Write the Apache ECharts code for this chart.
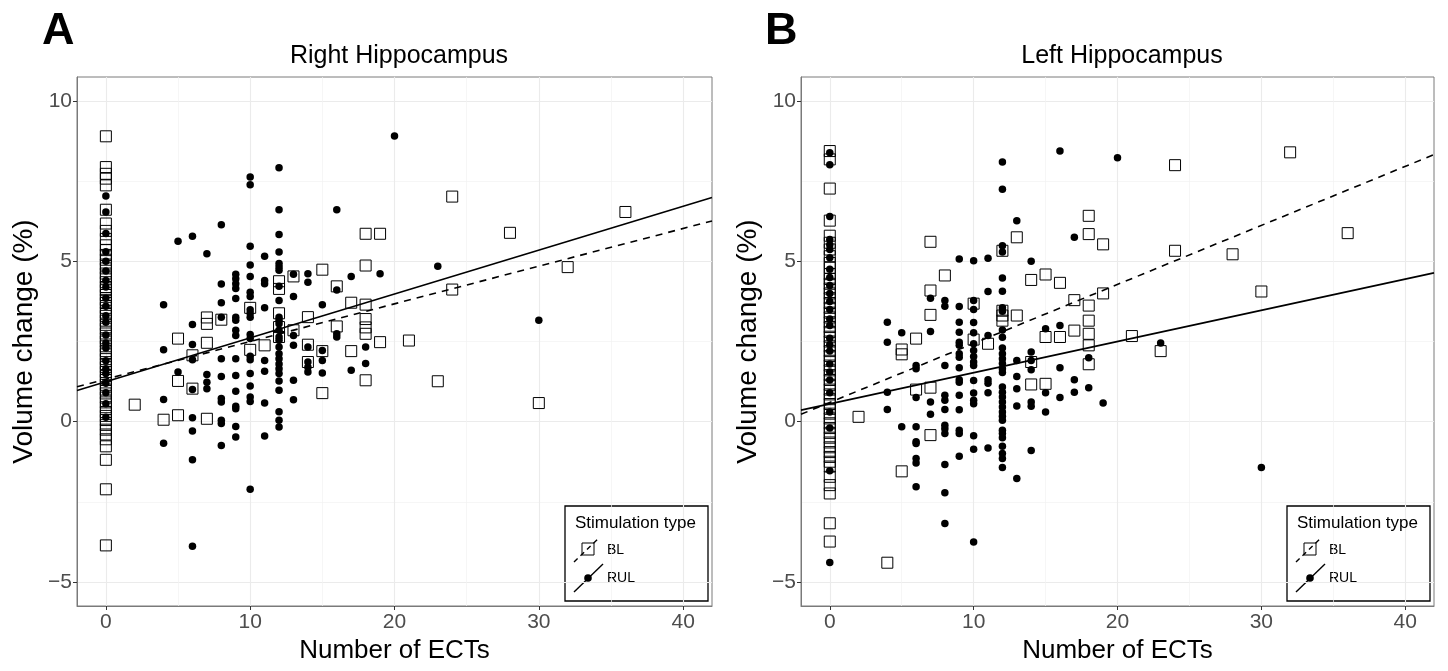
<!DOCTYPE html>
<html>
<head>
<meta charset="utf-8">
<title>ECT hippocampus volume change</title>
<script src="https://cdn.jsdelivr.net/npm/echarts@6/dist/echarts.min.js"></script>
<style>
  html, body { margin: 0; padding: 0; background: #fff; }
  #chart { width: 1448px; height: 671px; }
</style>
</head>
<body>
<div id="chart"></div>
<script>
// ---- data: [number of ECTs, volume change %] ----
// panel A, right hippocampus
var rightBL = [
  [0, 8.9], [0, 7.94], [0, 7.73], [0, 7.58], [0, 7.37], [0, 6.61], [0, 6.18], [0, 5.95], [0, 5.7], [0, 5.5],
  [0, 5.35], [0, 5.2], [0, 5.05], [0, 4.9], [0, 4.78], [0, 4.62], [0, 4.5], [0, 4.35], [0, 4.2], [0, 4.1],
  [0, 3.95], [0, 3.8], [0, 3.7], [0, 3.55], [0, 3.4], [0, 3.3], [0, 3.15], [0, 3.02], [0, 2.9], [0, 2.75],
  [0, 2.6], [0, 2.5], [0, 2.35], [0, 2.2], [0, 2.1], [0, 1.95], [0, 1.8], [0, 1.7], [0, 1.55], [0, 1.42],
  [0, 1.3], [0, 1.15], [0, 1.0], [0, 0.88], [0, 0.75], [0, 0.6], [0, 0.45], [0, 0.3], [0, 0.18], [0, 0.05],
  [0, -0.1], [0, -0.25], [0, -0.4], [0, -0.55], [0, -0.77], [0, -1.19], [0, -2.11], [0, -3.86],
  [2, 0.53], [4, 0.06], [5, 2.59], [5, 1.27], [5, 0.2], [6, 2.07], [6, 1.03],
  [7, 3.25], [7, 3.05], [7, 2.46], [7, 0.09], [8, 3.18], [10, 3.55], [10, 2.24], [11, 2.38],
  [12, 4.38], [12, 4.14], [12, 3.38], [12, 2.95], [12, 2.64], [13, 4.53], [13, 2.85],
  [14, 3.26], [14, 2.4], [14, 1.86], [15, 4.74], [15, 2.2], [15, 0.89], [16, 4.22], [16, 2.97],
  [17, 3.71], [17, 2.2], [18, 5.86], [18, 4.87], [18, 3.65], [18, 3.2], [18, 2.94], [18, 2.74], [18, 1.29],
  [19, 5.86], [19, 2.48], [21, 2.53], [23, 1.26], [24, 7.02], [24, 4.12], [28, 5.89], [30, 0.58],
  [32, 4.82], [36, 6.54]
];
var rightRUL = [
  [0, 7.04], [0, 6.54], [0, 5.87], [0, 5.3], [0, 5.0], [0, 4.7], [0, 4.4], [0, 4.2], [0, 3.85], [0, 3.6],
  [0, 3.3], [0, 3.1], [0, 2.7], [0, 2.45], [0, 2.3], [0, 1.9], [0, 1.65], [0, 1.5], [0, 1.2], [0, 0.9],
  [0, 0.56], [0, 0.14],
  [4, 3.65], [4, 2.24], [4, 0.69], [4, -0.67], [5, 5.63], [5, 1.55],
  [6, 5.78], [6, 3.03], [6, 2.41], [6, 1.93], [6, 1.0], [6, 0.12], [6, -0.29], [6, -1.19], [6, -3.89],
  [7, 5.24], [7, 1.47], [7, 1.23], [7, 1.03],
  [8, 6.14], [8, 4.29], [8, 3.71], [8, 3.26], [8, 1.96], [8, 1.41], [8, 0.72], [8, 0.61], [8, 0.04], [8, -0.06], [8, -0.74],
  [9, 4.6], [9, 4.46], [9, 4.3], [9, 4.15], [9, 3.84], [9, 3.26], [9, 3.16], [9, 2.85], [9, 2.69], [9, 1.96],
  [9, 1.44], [9, 0.95], [9, 0.48], [9, 0.4], [9, -0.15], [9, -0.48],
  [10, 7.63], [10, 7.39], [10, 5.47], [10, 4.89], [10, 4.53], [10, 4.04], [10, 3.9], [10, 3.49], [10, 3.38], [10, 3.26],
  [10, 2.72], [10, 2.59], [10, 2.04], [10, 1.93], [10, 1.5], [10, 1.11], [10, 0.77], [10, 0.63], [10, -2.11],
  [11, 5.16], [11, 4.4], [11, 4.3], [11, 3.55], [11, 1.91], [11, 1.57], [11, 0.58], [11, -0.45],
  [12, 7.92], [12, 6.61], [12, 5.84], [12, 5.29], [12, 4.93], [12, 4.82], [12, 4.72], [12, 4.22], [12, 3.78], [12, 3.26],
  [12, 3.16], [12, 3.05], [12, 2.85], [12, 2.64], [12, 2.54], [12, 2.33], [12, 2.12], [12, 1.96], [12, 1.8], [12, 1.65],
  [12, 1.5], [12, 1.27], [12, 0.98], [12, 0.31], [12, 0.04], [12, -0.17],
  [13, 4.6], [13, 3.9], [13, 2.69], [13, 2.38], [13, 1.29], [13, 0.68],
  [14, 4.61], [14, 4.35], [14, 2.33], [14, 1.86], [14, 1.7], [14, 1.55],
  [15, 3.65], [15, 2.22], [15, 1.91], [15, 1.52], [16, 6.61], [16, 4.11], [16, 2.74], [16, 2.64],
  [17, 4.53], [17, 1.6], [18, 2.33], [18, 1.81], [19, 4.61], [20, 8.91], [23, 4.85], [30, 3.16]
];
var rightFitBL = [[-2, 1.09], [42, 6.26]];
var rightFitRUL = [[-2, 0.97], [42, 6.99]];

// panel B, left hippocampus
var leftBL = [
  [0, 8.44], [0, 8.18], [0, 7.27], [0, 6.27], [0, 5.8], [0, 5.58], [0, 5.37], [0, 5.16], [0, 4.95], [0, 4.8],
  [0, 4.6], [0, 4.45], [0, 4.3], [0, 4.15], [0, 4.0], [0, 3.85], [0, 3.7], [0, 3.55], [0, 3.4], [0, 3.25],
  [0, 3.1], [0, 2.95], [0, 2.8], [0, 2.65], [0, 2.5], [0, 2.35], [0, 2.2], [0, 2.05], [0, 1.9], [0, 1.75],
  [0, 1.6], [0, 1.45], [0, 1.3], [0, 1.15], [0, 1.0], [0, 0.85], [0, 0.7], [0, 0.55], [0, 0.4], [0, 0.25],
  [0, 0.1], [0, -0.05], [0, -0.2], [0, -0.35], [0, -0.5], [0, -0.65], [0, -0.8], [0, -0.95], [0, -1.1], [0, -1.25],
  [0, -1.4], [0, -1.72], [0, -1.98], [0, -2.24], [0, -3.17], [0, -3.74],
  [2, 0.15], [4, -4.4], [5, 2.25], [5, 2.1], [5, -1.55], [6, 2.59], [6, 1.0],
  [7, 5.61], [7, 4.09], [7, 3.33], [7, 1.06], [7, -0.42], [8, 4.56], [10, 3.68], [10, 2.56], [11, 2.43],
  [12, 5.33], [12, 3.46], [12, 3.31], [12, 3.15], [13, 5.75], [13, 3.31], [14, 4.42], [14, 1.86], [14, 1.16],
  [15, 4.59], [15, 2.64], [15, 1.18], [16, 4.33], [16, 2.64], [17, 3.79], [17, 2.84],
  [18, 6.42], [18, 5.85], [18, 3.62], [18, 3.15], [18, 2.74], [18, 2.38], [18, 1.79], [19, 5.53], [19, 4.0],
  [21, 2.67], [23, 2.2], [24, 8.0], [24, 5.33], [28, 5.22], [30, 4.06], [32, 8.4], [36, 5.88]
];
var leftRUL = [
  [0, 8.39], [0, 8.01], [0, 6.4], [0, 5.68], [0, 5.52], [0, 5.37], [0, 5.11], [0, 4.75], [0, 4.5], [0, 4.25],
  [0, 4.0], [0, 3.75], [0, 3.5], [0, 3.2], [0, 3.0], [0, 2.6], [0, 2.4], [0, 2.2], [0, 1.8], [0, 1.55],
  [0, 1.3], [0, 0.9], [0, 0.3], [0, -0.2], [0, -1.53], [0, -4.39],
  [4, 3.1], [4, 2.48], [4, 0.92], [4, 0.38], [5, 2.77], [5, -0.16],
  [6, 1.75], [6, 1.65], [6, 0.75], [6, -0.16], [6, -0.63], [6, -0.68], [6, -1.15], [6, -1.29], [6, -2.03],
  [7, 3.85], [7, 2.81], [7, 0.61], [7, 0.23],
  [8, 3.78], [8, 3.6], [8, 1.75], [8, 0.82], [8, 0.67], [8, 0.38], [8, -0.11], [8, -0.22], [8, -0.37], [8, -1.34], [8, -2.22], [8, -3.18],
  [9, 5.07], [9, 3.59], [9, 3.1], [9, 2.79], [9, 2.48], [9, 2.38], [9, 2.12], [9, 2.01], [9, 1.68], [9, 1.31],
  [9, 1.23], [9, 0.82], [9, 0.37], [9, -0.27], [9, -0.37], [9, -1.08],
  [10, 5.02], [10, 3.78], [10, 3.5], [10, 3.09], [10, 2.77], [10, 2.43], [10, 2.22], [10, 2.03], [10, 1.86], [10, 1.75],
  [10, 1.28], [10, 0.89], [10, 0.67], [10, 0.56], [10, -0.44], [10, -0.86], [10, -3.75],
  [11, 5.1], [11, 4.06], [11, 2.69], [11, 1.31], [11, 1.2], [11, 0.9], [11, -0.82],
  [12, 8.1], [12, 7.25], [12, 5.49], [12, 5.29], [12, 4.48], [12, 4.07], [12, 3.55], [12, 3.44], [12, 2.86], [12, 2.63],
  [12, 2.3], [12, 2.12], [12, 1.96], [12, 1.81], [12, 1.65], [12, 1.53], [12, 1.08], [12, 0.92], [12, 0.77], [12, 0.61],
  [12, 0.46], [12, 0.3], [12, 0.17], [12, 0.04], [12, -0.27], [12, -0.37], [12, -0.5], [12, -0.77], [12, -0.99], [12, -1.15], [12, -1.43],
  [13, 6.27], [13, 1.91], [13, 1.41], [13, 1.03], [13, 0.49], [13, -1.77],
  [14, 5.0], [14, 2.17], [14, 1.91], [14, 1.62], [14, 0.61], [14, 0.48], [14, -0.9],
  [15, 2.9], [15, 0.9], [15, 0.3], [16, 8.44], [16, 3.0], [16, 1.68], [16, 0.75],
  [17, 5.75], [17, 1.31], [17, 0.92], [18, 1.99], [18, 1.06], [19, 0.58], [20, 8.23], [23, 2.45], [30, -1.43]
];
var leftFitBL = [[-2, 0.23], [42, 8.33]];
var leftFitRUL = [[-2, 0.36], [42, 4.64]];

var xTicks = [0, 10, 20, 30, 40];
var xMinor = [5, 15, 25, 35];
var yTicks = [-5, 0, 5, 10];
var yMinor = [-2.5, 2.5, 7.5];

var panelTitles = ['Right Hippocampus', 'Left Hippocampus'];
var panelLetters = ['A', 'B'];
var groupNames = ['BL', 'RUL'];

// ---- layout ----
var font = 'Liberation Sans, Arial, Helvetica, sans-serif';
var grids = [
  { left: 77, top: 77, width: 635, height: 529 },
  { left: 801, top: 77, width: 633, height: 529 }
];

var chart = echarts.init(document.getElementById('chart'));

function minus(v) {
  return String(v).replace('-', '\u2212');
}

function majorX(i) {
  return {
    type: 'value', gridIndex: i, min: -2, max: 42,
    name: 'Number of ECTs', nameLocation: 'middle', nameGap: 30,
    nameTextStyle: { fontFamily: font, fontSize: 26, color: '#000' },
    axisLine: { show: true, onZero: false, lineStyle: { color: '#7a7a7a', width: 1 } },
    axisTick: { show: true, length: 4, customValues: xTicks, lineStyle: { color: '#333' } },
    axisLabel: { customValues: xTicks, margin: 6, fontFamily: font, fontSize: 21, color: '#4d4d4d', formatter: minus },
    splitLine: { show: true, lineStyle: { color: '#ebebeb', width: 1.1 } }
  };
}
function minorX(i) {
  return {
    type: 'value', gridIndex: i, min: -2, max: 42,
    axisLine: { show: false }, axisLabel: { show: false },
    axisTick: { show: false, customValues: xMinor },
    splitLine: { show: true, lineStyle: { color: '#f2f2f2', width: 0.7 } }
  };
}
function majorY(i) {
  return {
    type: 'value', gridIndex: i, min: -5.75, max: 10.75,
    name: 'Volume change (%)', nameLocation: 'middle', nameGap: 39,
    nameTextStyle: { fontFamily: font, fontSize: 28, color: '#000' },
    axisLine: { show: true, onZero: false, lineStyle: { color: '#7a7a7a', width: 1 } },
    axisTick: { show: true, length: 4, customValues: yTicks, lineStyle: { color: '#333' } },
    axisLabel: { customValues: yTicks, margin: 5, fontFamily: font, fontSize: 21, color: '#4d4d4d', formatter: minus },
    splitLine: { show: true, lineStyle: { color: '#ebebeb', width: 1.1 } }
  };
}
function minorY(i) {
  return {
    type: 'value', gridIndex: i, min: -5.75, max: 10.75,
    axisLine: { show: false }, axisLabel: { show: false },
    axisTick: { show: false, customValues: yMinor },
    splitLine: { show: true, lineStyle: { color: '#f2f2f2', width: 0.7 } }
  };
}

function squares(name, data, axis) {
  return {
    name: name, type: 'scatter', xAxisIndex: axis, yAxisIndex: axis,
    symbol: 'rect', symbolSize: 11, data: data, silent: true,
    itemStyle: { color: 'rgba(0,0,0,0)', borderColor: '#000', borderWidth: 1, opacity: 1 }
  };
}
function dots(name, data, axis) {
  return {
    name: name, type: 'scatter', xAxisIndex: axis, yAxisIndex: axis,
    symbol: 'circle', symbolSize: 7.5, data: data, silent: true,
    itemStyle: { color: '#000', opacity: 1 }
  };
}
function fit(name, data, axis, dashed) {
  return {
    name: name, type: 'line', xAxisIndex: axis, yAxisIndex: axis,
    data: data, showSymbol: false, silent: true, z: 5,
    lineStyle: { color: '#000', width: 1.6, type: dashed ? [7, 6] : 'solid' }
  };
}

// legend box drawn per panel ("Stimulation type")
function legendBox(dx) {
  return {
    type: 'group', x: dx, y: 0, silent: true, z: 100,
    children: [
      { type: 'rect', shape: { x: 565, y: 506, width: 143, height: 95 },
        style: { fill: '#fff', stroke: '#000', lineWidth: 1.3 } },
      { type: 'text', x: 575, y: 523, z2: 10,
        style: { text: 'Stimulation type', font: '17px ' + font, fill: '#000', textVerticalAlign: 'middle' } },
      { type: 'line', shape: { x1: 574, y1: 562, x2: 599, y2: 538 },
        style: { stroke: '#000', lineWidth: 1.4, lineDash: [5, 4] } },
      { type: 'rect', shape: { x: 582, y: 543, width: 12, height: 12 },
        style: { fill: 'rgba(0,0,0,0)', stroke: '#000', lineWidth: 1 } },
      { type: 'text', x: 607, y: 550,
        style: { text: groupNames[0], font: '14px ' + font, fill: '#000', textVerticalAlign: 'middle' } },
      { type: 'line', shape: { x1: 574, y1: 592, x2: 603, y2: 564 },
        style: { stroke: '#000', lineWidth: 1.4 } },
      { type: 'circle', shape: { cx: 588, cy: 578, r: 3.8 }, style: { fill: '#000' } },
      { type: 'text', x: 607, y: 578,
        style: { text: groupNames[1], font: '14px ' + font, fill: '#000', textVerticalAlign: 'middle' } }
    ]
  };
}

chart.setOption({
  backgroundColor: '#fff',
  animation: false,
  title: [
    { text: panelTitles[0], left: 394, top: 39, textAlign: 'center',
      textStyle: { fontFamily: font, fontSize: 25, fontWeight: 'normal', color: '#000' } },
    { text: panelTitles[1], left: 1117, top: 39, textAlign: 'center',
      textStyle: { fontFamily: font, fontSize: 25, fontWeight: 'normal', color: '#000' } },
    { text: panelLetters[0], left: 37, top: 4,
      textStyle: { fontFamily: font, fontSize: 45, fontWeight: 'bold', color: '#000' } },
    { text: panelLetters[1], left: 760, top: 4,
      textStyle: { fontFamily: font, fontSize: 45, fontWeight: 'bold', color: '#000' } }
  ],
  grid: grids.map(function (g) {
    return { left: g.left, top: g.top, width: g.width, height: g.height,
      show: true, backgroundColor: '#fff', borderColor: '#7a7a7a', borderWidth: 1 };
  }),
  xAxis: [majorX(0), minorX(0), majorX(1), minorX(1)],
  yAxis: [majorY(0), minorY(0), majorY(1), minorY(1)],
  series: [
    squares('BL', rightBL, 0), dots('RUL', rightRUL, 0),
    fit('BL fit', rightFitBL, 0, true), fit('RUL fit', rightFitRUL, 0, false),
    squares('BL', leftBL, 2), dots('RUL', leftRUL, 2),
    fit('BL fit', leftFitBL, 2, true), fit('RUL fit', leftFitRUL, 2, false)
  ],
  graphic: [legendBox(0), legendBox(722)]
});
</script>
</body>
</html>
